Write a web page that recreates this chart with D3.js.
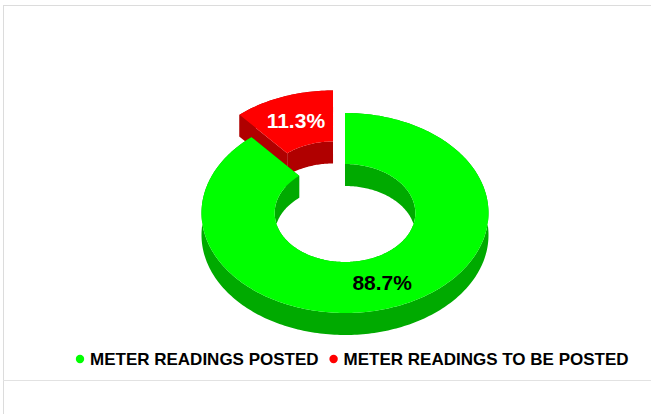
<!DOCTYPE html>
<html>
<head>
<meta charset="utf-8">
<script src="https://cdn.jsdelivr.net/npm/d3@7"></script>
<style>
  body { margin: 0; background: #fff; }
  svg { display: block; font-family: "Liberation Sans", Arial, sans-serif; }
</style>
</head>
<body>
<div id="chart"></div>
<script>
// Data
var categories = ["METER READINGS POSTED", "METER READINGS TO BE POSTED"];
var values = [88.7, 11.3];
var topColors = ["#00ff00", "#ff0000"];
var sideColors = ["#00aa00", "#b00000"];
var labelColors = ["#000", "#fff"];
var exploded = [false, true];

var width = 651, height = 414;

// Geometry of the tilted donut
var cx = 345, cy = 213;
var rxOuter = 143.5, ryOuter = 100;
var inner = 0.49;           // inner radius / outer radius
var depth = 22;
var explode = 0.24;         // offset as share of outer radius

var svg = d3.select("#chart").append("svg")
    .attr("width", width)
    .attr("height", height);

// frame lines
svg.append("line").attr("x1", 3.5).attr("y1", 5.5).attr("x2", 3.5).attr("y2", height)
    .attr("stroke", "#dcdcdc");
svg.append("line").attr("x1", 3).attr("y1", 5.5).attr("x2", width).attr("y2", 5.5)
    .attr("stroke", "#dcdcdc");
svg.append("line").attr("x1", 3).attr("y1", 380.5).attr("x2", width).attr("y2", 380.5)
    .attr("stroke", "#e2e2e2");

// angle scale: cumulative percent -> radians (clockwise from top)
var angle = d3.scaleLinear().domain([0, d3.sum(values)]).range([0, 2 * Math.PI]);

var slices = [];
var acc = 0;
values.forEach(function(v, i) {
    var a0 = angle(acc), a1 = angle(acc + v);
    acc += v;
    var mid = (a0 + a1) / 2;
    var ox = 0, oy = 0;
    if (exploded[i]) {
        ox = explode * rxOuter * Math.sin(mid);
        oy = -explode * ryOuter * Math.cos(mid);
    }
    slices.push({i: i, a0: a0, a1: a1, mid: mid, ox: ox, oy: oy, value: v});
});

function pt(s, a, k, dz) {
    return [cx + s.ox + k * rxOuter * Math.sin(a),
            cy + s.oy - k * ryOuter * Math.cos(a) + dz];
}

function arcPts(s, a0, a1, k, dz) {
    var n = Math.max(2, Math.ceil(Math.abs(a1 - a0) / 0.02));
    return d3.range(n + 1).map(function(j) {
        return pt(s, a0 + (a1 - a0) * j / n, k, dz);
    });
}

var line = d3.line();

function wall(s, k) {
    var top = arcPts(s, s.a0, s.a1, k, 0);
    var bot = arcPts(s, s.a1, s.a0, k, depth);
    return line(top.concat(bot)) + "Z";
}

function cutFace(s, a) {
    return line([pt(s, a, inner, 0), pt(s, a, 1, 0), pt(s, a, 1, depth), pt(s, a, inner, depth)]) + "Z";
}

function topFace(s) {
    var outer = arcPts(s, s.a0, s.a1, 1, 0);
    var inn = arcPts(s, s.a1, s.a0, inner, 0);
    return line(outer.concat(inn)) + "Z";
}

// draw back slices first
var order = slices.slice().sort(function(a, b) { return b.i - a.i; });

var g = svg.append("g");
order.forEach(function(s) {
    var grp = g.append("g");
    grp.append("path").attr("d", wall(s, 1)).attr("fill", sideColors[s.i]);
    grp.append("path").attr("d", wall(s, inner)).attr("fill", sideColors[s.i]);
    grp.append("path").attr("d", cutFace(s, s.a0)).attr("fill", sideColors[s.i]);
    grp.append("path").attr("d", cutFace(s, s.a1)).attr("fill", sideColors[s.i]);
    grp.append("path").attr("d", topFace(s)).attr("fill", topColors[s.i]);
});

// value labels
slices.forEach(function(s) {
    var p = pt(s, s.mid, (1 + inner) / 2, 0);
    svg.append("text")
        .attr("x", p[0])
        .attr("y", p[1])
        .attr("dy", "0.36em")
        .attr("text-anchor", "middle")
        .attr("font-size", 21)
        .attr("font-weight", "bold")
        .attr("fill", labelColors[s.i])
        .text(s.value.toFixed(1) + "%");
});

// legend
var legend = svg.append("g");
var lx = 80, ly = 359;
categories.forEach(function(c, i) {
    legend.append("circle").attr("cx", lx).attr("cy", ly).attr("r", 4.2)
        .attr("fill", topColors[i]);
    var t = legend.append("text")
        .attr("x", lx + 10)
        .attr("y", ly)
        .attr("dy", "0.36em")
        .attr("font-size", 17)
        .attr("font-weight", "bold")
        .attr("fill", "#000")
        .text(c);
    lx = lx + 10 + t.node().getComputedTextLength() + 15;
});
</script>
</body>
</html>
